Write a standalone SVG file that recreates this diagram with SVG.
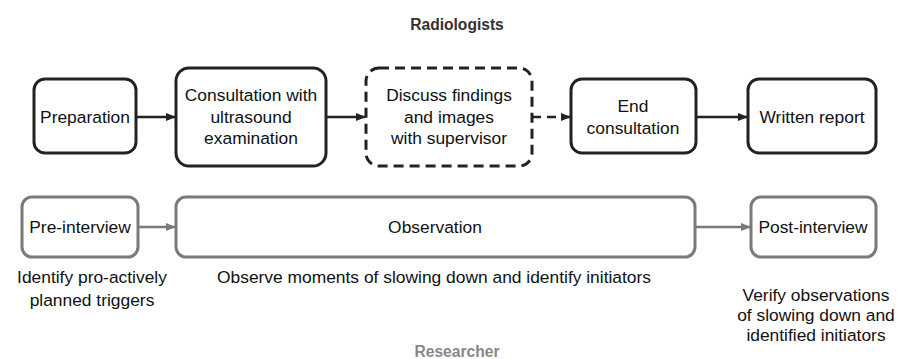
<svg xmlns="http://www.w3.org/2000/svg" width="914" height="359" viewBox="0 0 914 359">
<defs>
<style>
.t{font-family:"Liberation Sans",Arial,sans-serif;font-size:17.4px;fill:#111;text-anchor:middle}
.h{font-family:"Liberation Sans",Arial,sans-serif;font-size:15.6px;font-weight:bold;text-anchor:middle}
.bk{fill:#fff;stroke:#222;stroke-width:3}
.gr{fill:#fff;stroke:#7a7a7a;stroke-width:3}
.ca{stroke:#222;stroke-width:2.6;fill:none}
.cg{stroke:#7a7a7a;stroke-width:2.6;fill:none}
</style>
<marker id="ab" markerWidth="10" markerHeight="10" refX="9" refY="5" orient="auto" markerUnits="userSpaceOnUse"><path d="M0,1 L10,5 L0,9 Z" fill="#222"/></marker>
<marker id="ag" markerWidth="10" markerHeight="10" refX="9" refY="5" orient="auto" markerUnits="userSpaceOnUse"><path d="M0,1 L10,5 L0,9 Z" fill="#7a7a7a"/></marker>
</defs>
<rect width="914" height="359" fill="#fff"/>
<text class="h" x="457" y="30" fill="#333">Radiologists</text>
<text class="h" x="457" y="357" fill="#888">Researcher</text>

<g id="connectors">
<line class="ca" x1="136" y1="117" x2="175" y2="117" marker-end="url(#ab)"/>
<line class="ca" x1="326" y1="117" x2="365" y2="117" marker-end="url(#ab)"/>
<line class="ca" x1="532" y1="117" x2="570" y2="117" stroke-dasharray="9,6" marker-end="url(#ab)"/>
<line class="ca" x1="696" y1="117" x2="747" y2="117" marker-end="url(#ab)"/>
<line class="cg" x1="138" y1="227" x2="175" y2="227" marker-end="url(#ag)"/>
<line class="cg" x1="695" y1="227" x2="750" y2="227" marker-end="url(#ag)"/>
</g>

<g id="preparation">
<rect class="bk" x="34" y="79" width="102" height="74" rx="11"/>
<text class="t" x="85" y="123">Preparation</text>
</g>
<g id="consultation">
<rect class="bk" x="176" y="68" width="150" height="98" rx="13"/>
<text class="t" x="251" y="101">Consultation with</text>
<text class="t" x="251" y="123">ultrasound</text>
<text class="t" x="251" y="144">examination</text>
</g>
<g id="discuss">
<rect class="bk" x="366" y="68" width="166" height="98" rx="13" stroke-dasharray="10,6"/>
<text class="t" x="449" y="101">Discuss findings</text>
<text class="t" x="449" y="123">and images</text>
<text class="t" x="449" y="144">with supervisor</text>
</g>
<g id="end">
<rect class="bk" x="571" y="79" width="125" height="74" rx="11"/>
<text class="t" x="633" y="112">End</text>
<text class="t" x="633" y="134">consultation</text>
</g>
<g id="written">
<rect class="bk" x="748" y="79" width="128" height="74" rx="11"/>
<text class="t" x="812" y="123">Written report</text>
</g>

<g id="preinterview">
<rect class="gr" x="22" y="197" width="116" height="60" rx="10"/>
<text class="t" x="80" y="233">Pre-interview</text>
</g>
<g id="observation">
<rect class="gr" x="176" y="197" width="519" height="60" rx="10"/>
<text class="t" x="435" y="233">Observation</text>
</g>
<g id="postinterview">
<rect class="gr" x="751" y="197" width="125" height="60" rx="10"/>
<text class="t" x="813" y="233">Post-interview</text>
</g>

<g id="notes">
<text class="t" x="92" y="283">Identify pro-actively</text>
<text class="t" x="92" y="306">planned triggers</text>
<text class="t" x="434" y="283">Observe moments of slowing down and identify initiators</text>
<text class="t" x="816" y="301">Verify observations</text>
<text class="t" x="816" y="321">of slowing down and</text>
<text class="t" x="816" y="341">identified initiators</text>
</g>
</svg>
